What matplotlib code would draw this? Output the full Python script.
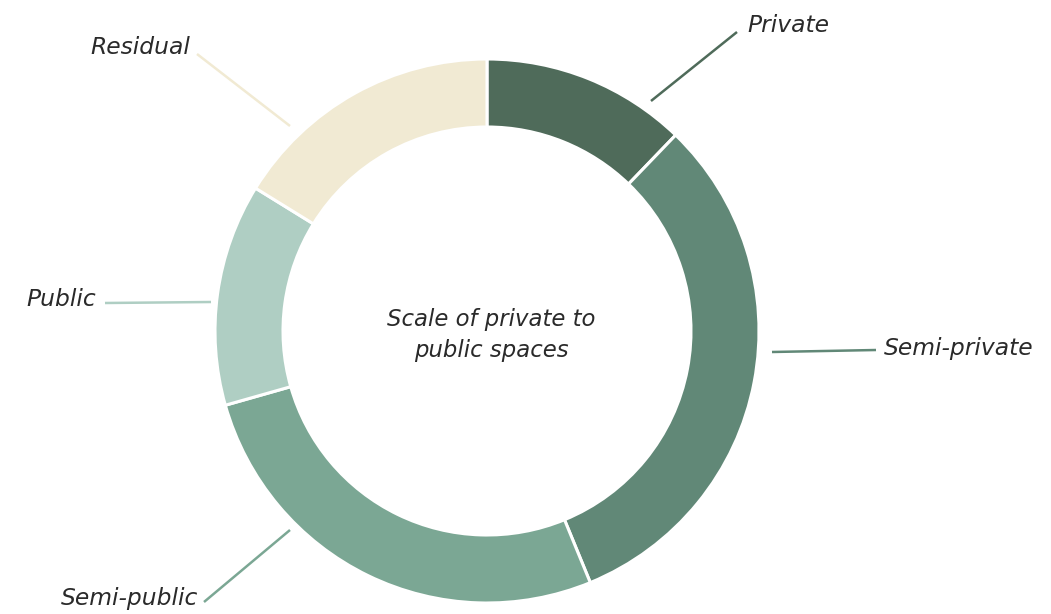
import matplotlib.pyplot as plt

plt.rcParams["font.family"] = ["DejaVu Sans"]

# data
categories = ["Private", "Semi-private", "Semi-public", "Public", "Residual"]
shares = [12.2, 31.6, 26.8, 13.2, 16.2]
colors = ["#4f6b5a", "#618877", "#7ba794", "#afcec3", "#f1ead3"]
center_label = "Scale of private to\npublic spaces"

# layout (pixel space, y counted from the bottom)
W, H = 1051, 614
cx, cy = 487, H - 331
outer_r = 272
ring_w = 68

# leader lines: start, end (top-down pixels), label anchor, alignment
leaders = {
	"Private": ((651, 101), (737, 32), (747, 25), "left"),
	"Semi-private": ((772, 352), (876, 350), (884, 349), "left"),
	"Semi-public": ((290, 530), (204, 602), (198, 599), "right"),
	"Public": ((105, 303), (211, 302), (96, 300), "right"),
	"Residual": ((290, 126), (197, 54), (190, 48), "right"),
}

fig = plt.figure(figsize=(W / 100, H / 100), dpi=100)
ax = fig.add_axes([0, 0, 1, 1])
ax.set_xlim(0, W)
ax.set_ylim(0, H)
ax.set_aspect("equal")
ax.axis("off")

ax.pie(shares, colors=colors, startangle=90, counterclock=False,
       center=(cx, cy), radius=outer_r,
       wedgeprops=dict(width=ring_w, edgecolor="white", linewidth=2.2))

# pie resets limits, set them again
ax.set_xlim(0, W)
ax.set_ylim(0, H)

for name, col in zip(categories, colors):
	(x0, y0), (x1, y1), (tx, ty), ha = leaders[name]
	ax.plot([x0, x1], [H - y0, H - y1], color=col, linewidth=1.8,
	        solid_capstyle="butt")
	ax.text(tx, H - ty, name, ha=ha, va="center", fontsize=16.8,
	        fontstyle="italic", color="#2a2a2a")

ax.text(491, H - 335, center_label, ha="center", va="center", fontsize=16.4,
        fontstyle="italic", color="#2a2a2a", linespacing=1.45)

plt.savefig("out.png", dpi=100, facecolor="white")
